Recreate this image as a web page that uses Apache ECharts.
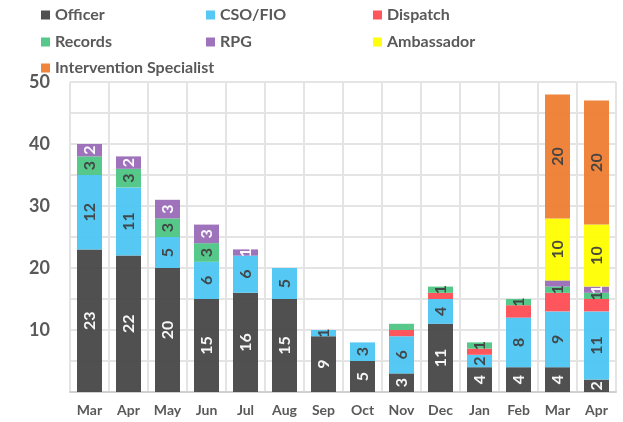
<!DOCTYPE html>
<html>
<head>
<meta charset="utf-8">
<script src="https://cdn.jsdelivr.net/npm/echarts@6/dist/echarts.min.js"></script>
<style>html,body{margin:0;padding:0;background:#fff}#c{width:623px;height:422px}</style>
</head>
<body>
<div id="c"></div>
<script>
var months = ['Mar','Apr','May','Jun','Jul','Aug','Sep','Oct','Nov','Dec','Jan','Feb','Mar','Apr'];
var seriesNames = ['Officer','CSO/FIO','Dispatch','Records','RPG','Ambassador','Intervention Specialist'];
var officer      = [23,22,20,15,16,15,9,5,3,11,4,4,4,2];
var csoFio       = [12,11,5,6,6,5,1,3,6,4,2,8,9,11];
var dispatch     = [0,0,0,0,0,0,0,0,1,1,1,2,3,2];
var records      = [3,3,3,3,0,0,0,0,1,1,1,1,1,1];
var rpg          = [2,2,3,3,1,0,0,0,0,0,0,0,1,1];
var ambassador   = [0,0,0,0,0,0,0,0,0,0,0,0,10,10];
var intervention = [0,0,0,0,0,0,0,0,0,0,0,0,20,20];
var yTickLabels  = [10,20,30,40,50];

var values = [officer, csoFio, dispatch, records, rpg, ambassador, intervention];
var colors = ['#474747','#4cc6f2','#ff4d55','#4cc584','#9a6bb8','#ffff00','#ee7d31'];
var labelColors = ['#ffffff','#404040','#404040','#404040','#ffffff','#404040','#404040'];
var showLabel = [true,true,false,true,true,true,true];
// individual small segments left unlabelled in the reference
var hideLabel = {3:[8], 4:[12]};

var FONT = 'Lato, "Open Sans", sans-serif';
var TXT = '#595959';

var series = values.map(function(arr, si){
  return {
    name: seriesNames[si],
    type: 'bar',
    stack: 'total',
    barWidth: 25,
    itemStyle: {color: colors[si], opacity: 0.95},
    label: {
      show: showLabel[si],
      rotate: 90,
      position: 'inside',
      color: labelColors[si],
      fontFamily: FONT,
      fontWeight: 'bold',
      fontSize: 16,
      formatter: function(p){ return p.value ? String(p.value) : ''; }
    },
    data: arr.map(function(v, i){
      if (v === 0) return '-';
      if (hideLabel[si] && hideLabel[si].indexOf(i) >= 0) return {value: v, label: {show: false}};
      return v;
    })
  };
});

var legendPos = [[36,2],[201,2],[368,2],[36,29],[201,29],[368,29],[36,55]];
var legends = seriesNames.map(function(n, i){
  return {
    data: [n],
    left: legendPos[i][0],
    top: legendPos[i][1],
    icon: 'rect',
    itemWidth: 9,
    itemHeight: 9,
    itemGap: 4,
    textStyle: {color: TXT, fontFamily: FONT, fontWeight: 'bold', fontSize: 16},
    selectedMode: false
  };
});

var chart = echarts.init(document.getElementById('c'), null, {renderer: 'canvas'});
chart.setOption({
  animation: false,
  backgroundColor: '#fff',
  legend: legends,
  grid: {left: 70, right: 7, top: 82, bottom: 30, containLabel: false},
  xAxis: {
    type: 'category',
    data: months,
    boundaryGap: true,
    axisLine: {lineStyle: {color: '#d0d0d0', width: 2}},
    axisTick: {show: false},
    splitLine: {show: true, lineStyle: {color: '#e4e4e4', width: 2}},
    axisLabel: {color: TXT, fontFamily: FONT, fontWeight: 'bold', fontSize: 14, margin: 11, interval: 0}
  },
  yAxis: {
    type: 'value',
    min: 0, max: 50, interval: 5,
    axisLine: {show: false},
    axisTick: {show: false},
    splitLine: {show: true, lineStyle: {color: '#e4e4e4', width: 2}},
    axisLabel: {
      color: TXT, fontFamily: FONT, fontWeight: 'bold', fontSize: 18, margin: 20,
      formatter: function(v){ return yTickLabels.indexOf(v) >= 0 ? String(v) : ''; }
    }
  },
  series: series
});
</script>
</body>
</html>
